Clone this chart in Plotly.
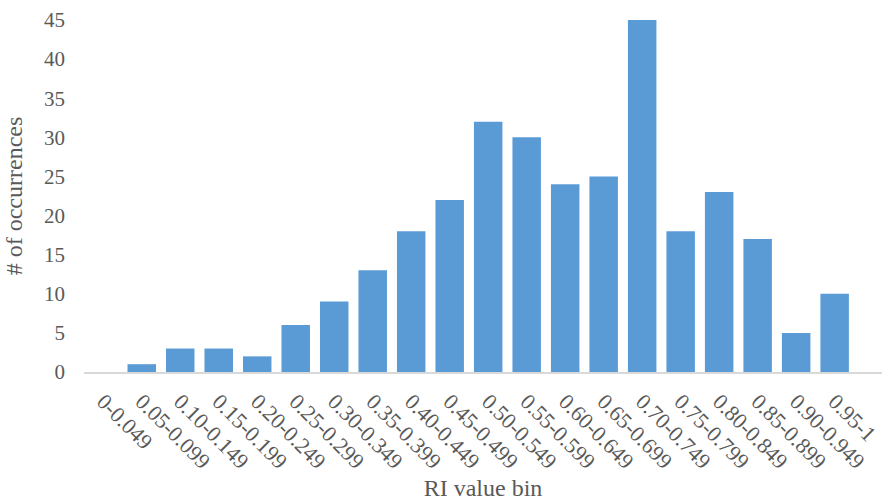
import plotly.graph_objects as go

# RI value bins and their occurrence counts
bins = ["0-0.049", "0.05-0.099", "0.10-0.149", "0.15-0.199", "0.20-0.249",
        "0.25-0.299", "0.30-0.349", "0.35-0.399", "0.40-0.449", "0.45-0.499",
        "0.50-0.549", "0.55-0.599", "0.60-0.649", "0.65-0.699", "0.70-0.749",
        "0.75-0.799", "0.80-0.849", "0.85-0.899", "0.90-0.949", "0.95-1"]
counts = [0, 1, 3, 3, 2, 6, 9, 13, 18, 22, 32, 30, 24, 25, 45, 18, 23, 17, 5, 10]
y_ticks = [0, 5, 10, 15, 20, 25, 30, 35, 40, 45]

FONT = "'Liberation Serif', 'Times New Roman', serif"
GRAY = "#595959"

fig = go.Figure(go.Bar(
    x=list(range(len(bins))),
    y=counts,
    marker=dict(color="#5B9BD5", line=dict(width=0)),
    width=0.74,
))

fig.update_layout(
    width=882, height=504,
    margin=dict(l=84, r=0, t=20, b=132),
    paper_bgcolor="white", plot_bgcolor="white",
    font=dict(family=FONT, color=GRAY, size=21),
    showlegend=False,
)

fig.update_xaxes(
    range=[-0.5, 20.23],
    tickmode="array",
    tickvals=list(range(len(bins))),
    ticktext=bins,
    tickangle=45,
    tickfont=dict(family=FONT, size=22, color=GRAY),
    ticklabeloverflow="allow",
    automargin=False,
    showline=True, linecolor="#D9D9D9", linewidth=1.5,
    showgrid=False, zeroline=False,
    ticks="", ticklabelstandoff=6,
    title=dict(text="RI value bin", font=dict(family=FONT, size=24, color=GRAY), standoff=6),
)

fig.update_yaxes(
    range=[0, 45],
    tickmode="array",
    tickvals=y_ticks,
    tickfont=dict(family=FONT, size=21, color=GRAY),
    automargin=False,
    showline=False, showgrid=False, zeroline=False,
    ticks="", ticklabelstandoff=18,
    title=dict(text="# of occurrences", font=dict(family=FONT, size=24, color=GRAY), standoff=14),
)

fig.write_html("out.html")
